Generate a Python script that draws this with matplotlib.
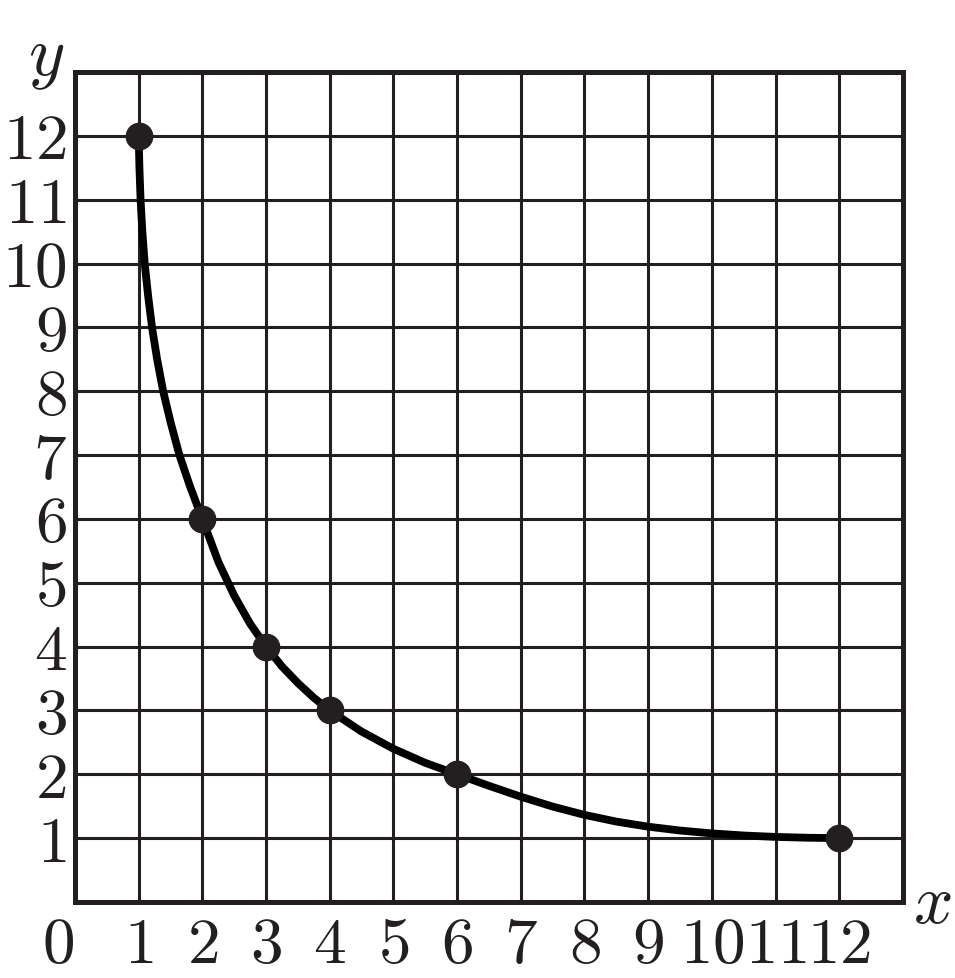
import matplotlib
matplotlib.use('Agg')
import matplotlib.pyplot as plt
from matplotlib.transforms import ScaledTranslation

plt.rcParams['mathtext.fontset'] = 'cm'
plt.rcParams['font.family'] = 'serif'
plt.rcParams['font.serif'] = ['cmr10', 'DejaVu Serif']
plt.rcParams['axes.formatter.use_mathtext'] = True

# marked points
pts_x = [1, 2, 3, 4, 6, 12]
pts_y = [12, 6, 4, 3, 2, 1]

# smooth curve
curve_x = [1.0, 1.012, 1.03, 1.058, 1.095, 1.148, 1.21, 1.29, 1.385, 1.505, 1.64, 1.81, 2.0,
           2.25, 2.5, 2.75, 3.0, 3.25, 3.5, 3.75, 4.0, 4.5, 5.0, 5.5, 6.0,
           6.5, 7.0, 7.5, 8.0, 8.5, 9.0, 9.5, 10.0, 10.5, 11.0, 11.5, 12.0]
curve_y = [12.0, 11.5, 11.0, 10.5, 10.0, 9.5, 9.0, 8.5, 8.0, 7.5, 7.0, 6.5, 6.0,
           5.33, 4.8, 4.36, 4.0, 3.69, 3.43, 3.2, 3.0, 2.67, 2.4, 2.18, 2.0,
           1.82, 1.65, 1.495, 1.365, 1.26, 1.18, 1.12, 1.075, 1.042, 1.02, 1.007, 1.0]

xticks = list(range(0, 13))
yticks = list(range(1, 13))

ink = '#231f20'

fig = plt.figure(figsize=(9.55, 9.79), dpi=100)
ax = fig.add_axes([0.0785, 0.0776, 0.867, 0.8478])
ax.set_xlim(0, 13)
ax.set_ylim(0, 13)

for v in range(1, 13):
    ax.axvline(v, color=ink, lw=2.2, zorder=1)
    ax.axhline(v, color=ink, lw=2.2, zorder=1)

ax.plot(curve_x, curve_y, color='black', lw=5.6, solid_capstyle='butt',
        solid_joinstyle='round', zorder=3)
ax.plot(pts_x, pts_y, 'o', color=ink, ms=19, zorder=4)

for s in ax.spines.values():
    s.set_linewidth(3.6)
    s.set_color(ink)

ax.set_xticks(xticks)
ax.set_xticklabels([f'${t}$' for t in xticks])
ax.set_yticks(yticks)
ax.set_yticklabels([f'${t}$' for t in yticks])
ax.tick_params(length=0, labelsize=47, colors=ink)
ax.tick_params(axis='x', pad=11)
ax.tick_params(axis='y', pad=6)

# the "0" sits a little left of the corner
lab0 = ax.xaxis.get_major_ticks()[0].label1
lab0.set_transform(lab0.get_transform() + ScaledTranslation(-0.17, 0, fig.dpi_scale_trans))

fig.text(0.048, 0.937, '$y$', fontsize=50, color=ink, ha='center', va='center')
fig.text(0.976, 0.075, '$x$', fontsize=50, color=ink, ha='center', va='center')

plt.savefig('out.png', dpi=100)
plt.close()
